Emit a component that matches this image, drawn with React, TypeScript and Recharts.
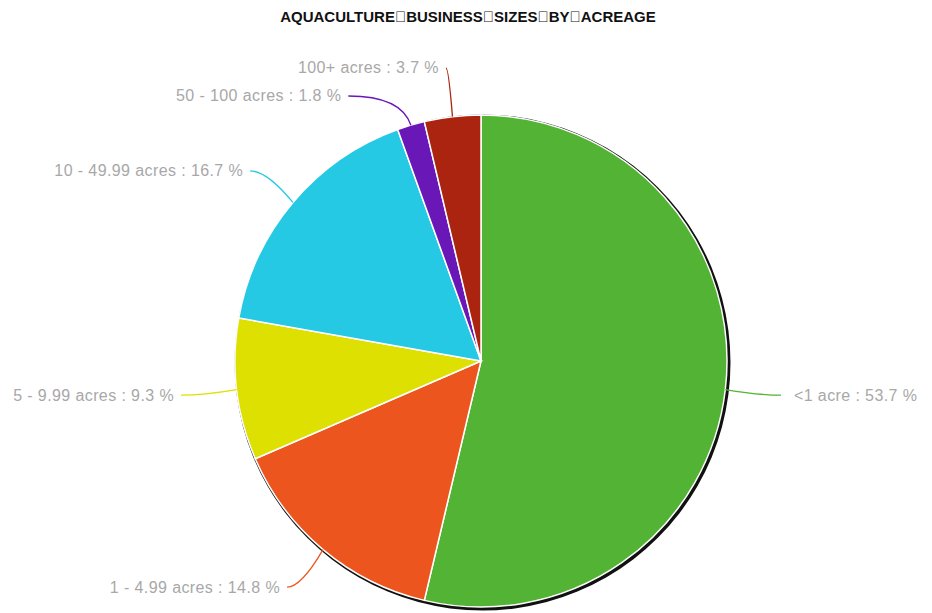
import { Pie, PieChart } from "recharts";

const categories = ["<1 acre", "1 - 4.99 acres", "5 - 9.99 acres", "10 - 49.99 acres", "50 - 100 acres", "100+ acres"];
const shares = [53.7, 14.8, 9.3, 16.7, 1.8, 3.7];
const colors = ["#52b334", "#ec561e", "#dde000", "#25c9e4", "#6a17b8", "#aa2410"];
const titleWords = ["AQUACULTURE", "BUSINESS", "SIZES", "BY", "ACREAGE"];

const data = categories.map((name, i) => ({ name, value: shares[i], fill: colors[i] }));
const shadow = [{ name: "shadow", value: 1, fill: "#111" }];

const RAD = Math.PI / 180;
const FONT = "'Liberation Sans', Arial, sans-serif";
const CX = 481;
const CY = 361;
const R = 246;
const LABEL_RX = R + 56;
const LABEL_RY = R + 49;
const MIN_GAP = 28;

// label anchor points: on an ellipse along the slice's mid angle, nudged apart vertically
function layoutLabels() {
  const total = shares.reduce((a, b) => a + b, 0);
  let acc = 0;
  const pts = shares.map((v) => {
    const mid = 90 - ((acc + v / 2) / total) * 360;
    acc += v;
    const cos = Math.cos(-mid * RAD);
    const sin = Math.sin(-mid * RAD);
    return { cos, sin, x: CX + LABEL_RX * cos, y: CY + LABEL_RY * sin, right: cos >= 0 };
  });
  for (const side of [true, false]) {
    const idx = pts.map((p, i) => i).filter((i) => pts[i].right === side).sort((a, b) => pts[a].y - pts[b].y);
    let prev = -Infinity;
    for (const i of idx) {
      const p = pts[i];
      if (p.y < prev + MIN_GAP) {
        p.y = prev + MIN_GAP;
        const t = (p.y - CY) / LABEL_RY;
        const dx = LABEL_RX * Math.sqrt(Math.max(1 - t * t, 0));
        p.x = CX + (side ? dx : -dx);
      }
      prev = p.y;
    }
  }
  return pts;
}

const labelPts = layoutLabels();

function renderLabel(props: any) {
  const { cx, cy, outerRadius, payload, fill, index } = props;
  const p = labelPts[index];
  const sx = cx + outerRadius * p.cos;
  const sy = cy + outerRadius * p.sin;
  const mx = cx + (outerRadius + 34) * p.cos;
  return (
    <g>
      <path d={`M${sx},${sy} Q${mx},${p.y} ${p.x},${p.y}`} stroke={fill} strokeWidth={1.3} fill="none" />
      <text
        x={p.x + (p.right ? 13 : -7)}
        y={p.y}
        textAnchor={p.right ? "start" : "end"}
        dominantBaseline="central"
        fill="#a8a8a8"
        fontSize={16}
        letterSpacing={0.4}
        fontFamily={FONT}
      >
        {`${payload.name} : ${payload.value} %`}
      </text>
    </g>
  );
}

export default function App() {
  return (
    <div style={{ position: "absolute", left: 0, top: 0, width: 932, height: 613, background: "#fff" }}>
      <PieChart width={932} height={613} margin={{ top: 0, right: 0, bottom: 0, left: 0 }}>
        <text x={468} y={21.5} textAnchor="middle" fontFamily={FONT} fontWeight="bold" fontSize={15} fill="#111">
          {titleWords.join("\uE000")}
        </text>
        <Pie
          data={shadow}
          dataKey="value"
          cx={CX + 1.5}
          cy={CY + 1.5}
          outerRadius={R + 2}
          stroke="none"
          isAnimationActive={false}
          label={false}
          labelLine={false}
        />
        <Pie
          data={data}
          dataKey="value"
          cx={CX}
          cy={CY}
          outerRadius={R}
          startAngle={90}
          endAngle={-270}
          stroke="#fff"
          strokeWidth={1.5}
          isAnimationActive={false}
          label={renderLabel}
          labelLine={false}
        />
      </PieChart>
    </div>
  );
}
